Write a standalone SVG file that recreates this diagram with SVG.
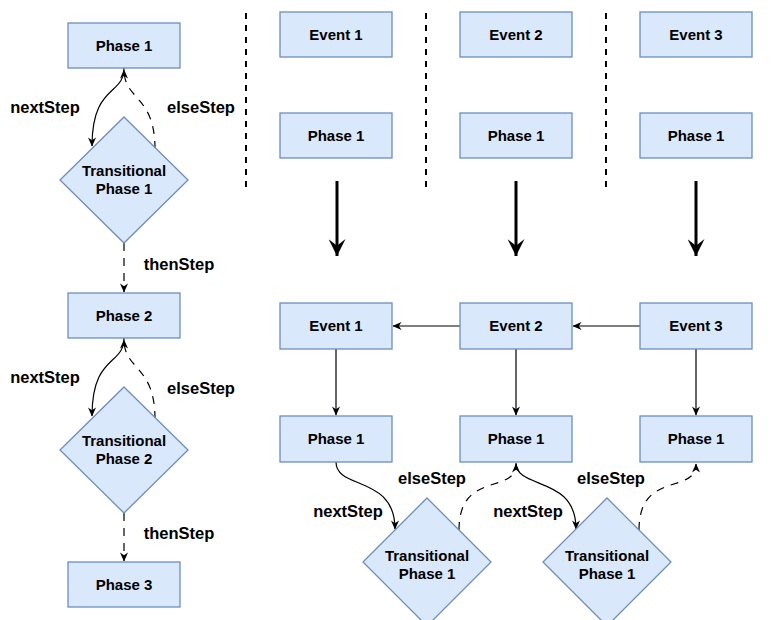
<svg xmlns="http://www.w3.org/2000/svg" width="781" height="620" viewBox="0 0 781 620">
<style>
.box{fill:#dae8fc;stroke:#6c8ebf;stroke-width:1.3}
.t{font-family:"Liberation Sans",Arial,Helvetica,sans-serif;font-weight:bold;font-size:15px;fill:#000;text-anchor:middle}
.lbl{font-family:"Liberation Sans",Arial,Helvetica,sans-serif;font-weight:bold;font-size:16.5px;fill:#000;text-anchor:middle}
.e{fill:none;stroke:#000;stroke-width:1.2}
.d{stroke-dasharray:8 7}
.sep{fill:none;stroke:#000;stroke-width:2;stroke-dasharray:6 6}
.big{fill:none;stroke:#000;stroke-width:3}
</style>
<defs>
<marker id="a" viewBox="0 0 10 10" refX="9.5" refY="5" markerWidth="10" markerHeight="9" markerUnits="userSpaceOnUse" orient="auto"><path d="M0,0.5 L10,5 L0,9.5 L3,5 z" fill="#000"/></marker>
<marker id="ab" viewBox="0 0 10 10" refX="10" refY="5" markerWidth="17" markerHeight="17" markerUnits="userSpaceOnUse" orient="auto"><path d="M0,0 L10,5 L0,10 L4,5 z" fill="#000"/></marker>
</defs>

<g id="connectors">
<path class="e" d="M124,68 C124,96 92,84 92,146" marker-end="url(#a)"/>
<path class="e d" d="M155,149 C155,95 124,100 124,70" marker-end="url(#a)"/>
<path class="e d" d="M124,243 L124,292" marker-end="url(#a)"/>
<path class="e" d="M124,338 C124,366 92,354 92,416" marker-end="url(#a)"/>
<path class="e d" d="M155,419 C155,365 124,370 124,340" marker-end="url(#a)"/>
<path class="e d" d="M124,513 L124,561" marker-end="url(#a)"/>
<path class="sep" d="M246,13 L246,192"/>
<path class="sep" d="M426,13 L426,192"/>
<path class="sep" d="M606,13 L606,192"/>
<path class="big" d="M337,181 L337,256" marker-end="url(#ab)"/>
<path class="big" d="M516,181 L516,256" marker-end="url(#ab)"/>
<path class="big" d="M696,181 L696,256" marker-end="url(#ab)"/>
<path class="e" d="M460,326 L393,326" marker-end="url(#a)"/>
<path class="e" d="M640,326 L573,326" marker-end="url(#a)"/>
<path class="e" d="M336,349 L336,415" marker-end="url(#a)"/>
<path class="e" d="M516,349 L516,415" marker-end="url(#a)"/>
<path class="e" d="M696,349 L696,415" marker-end="url(#a)"/>
<path class="e" d="M336,462 C336,490 395,475 395,529" marker-end="url(#a)"/>
<path class="e d" d="M459,530 C459,470 516,495 516,464" marker-end="url(#a)"/>
<path class="e" d="M516,463 C516,490 576,475 576,529" marker-end="url(#a)"/>
<path class="e d" d="M639,530 C639,470 696,495 696,464" marker-end="url(#a)"/>
<text class="lbl" x="45" y="113">nextStep</text>
<text class="lbl" x="201" y="113">elseStep</text>
<text class="lbl" x="179" y="270">thenStep</text>
<text class="lbl" x="45" y="383">nextStep</text>
<text class="lbl" x="201" y="394">elseStep</text>
<text class="lbl" x="179" y="539">thenStep</text>
<text class="lbl" x="348" y="517">nextStep</text>
<text class="lbl" x="432" y="484">elseStep</text>
<text class="lbl" x="528" y="517">nextStep</text>
<text class="lbl" x="611" y="484">elseStep</text>
</g>

<g id="l-phase1"><rect class="box" x="68" y="23" width="112" height="45"/><text class="t" x="124" y="51">Phase 1</text></g>
<g id="l-trans1"><polygon class="box" points="124,117 188,180 124,243 60,180"/><text class="t" x="124" y="176">Transitional</text><text class="t" x="124" y="194">Phase 1</text></g>
<g id="l-phase2"><rect class="box" x="68" y="293" width="112" height="45"/><text class="t" x="124" y="320.5">Phase 2</text></g>
<g id="l-trans2"><polygon class="box" points="124,387 188,450 124,513 60,450"/><text class="t" x="124" y="446">Transitional</text><text class="t" x="124" y="464">Phase 2</text></g>
<g id="l-phase3"><rect class="box" x="68" y="562" width="112" height="45"/><text class="t" x="124" y="589.5">Phase 3</text></g>

<g id="t-event1"><rect class="box" x="280" y="12" width="112" height="45"/><text class="t" x="336" y="39.5">Event 1</text></g>
<g id="t-event2"><rect class="box" x="460" y="12" width="112" height="45"/><text class="t" x="516" y="39.5">Event 2</text></g>
<g id="t-event3"><rect class="box" x="640" y="12" width="112" height="45"/><text class="t" x="696" y="39.5">Event 3</text></g>
<g id="t-phase1a"><rect class="box" x="280" y="113" width="112" height="45"/><text class="t" x="336" y="140.5">Phase 1</text></g>
<g id="t-phase1b"><rect class="box" x="460" y="113" width="112" height="45"/><text class="t" x="516" y="140.5">Phase 1</text></g>
<g id="t-phase1c"><rect class="box" x="640" y="113" width="112" height="45"/><text class="t" x="696" y="140.5">Phase 1</text></g>

<g id="b-event1"><rect class="box" x="280" y="303" width="112" height="46"/><text class="t" x="336" y="331">Event 1</text></g>
<g id="b-event2"><rect class="box" x="460" y="303" width="112" height="46"/><text class="t" x="516" y="331">Event 2</text></g>
<g id="b-event3"><rect class="box" x="640" y="303" width="112" height="46"/><text class="t" x="696" y="331">Event 3</text></g>
<g id="b-phase1a"><rect class="box" x="280" y="416" width="112" height="46"/><text class="t" x="336" y="444">Phase 1</text></g>
<g id="b-phase1b"><rect class="box" x="460" y="416" width="112" height="46"/><text class="t" x="516" y="444">Phase 1</text></g>
<g id="b-phase1c"><rect class="box" x="640" y="416" width="112" height="46"/><text class="t" x="696" y="444">Phase 1</text></g>
<g id="b-transA"><polygon class="box" points="427,498 491,562 427,626 363,562"/><text class="t" x="427" y="561">Transitional</text><text class="t" x="427" y="579">Phase 1</text></g>
<g id="b-transB"><polygon class="box" points="607,498 671,562 607,626 543,562"/><text class="t" x="607" y="561">Transitional</text><text class="t" x="607" y="579">Phase 1</text></g>
</svg>
